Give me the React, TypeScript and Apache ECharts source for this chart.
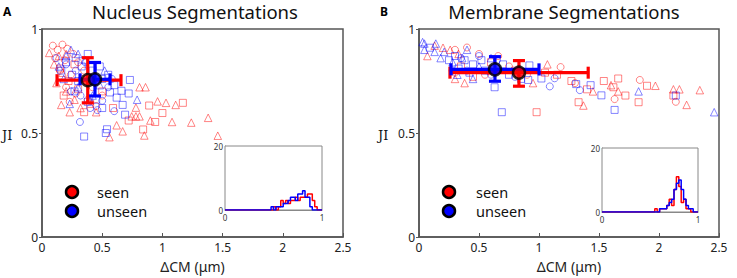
import React, { useEffect, useRef } from "react";
import * as echarts from "echarts";

// ---------- data ----------
const xTicks = [0, 0.5, 1, 1.5, 2, 2.5];
const yTicks = [0, 0.5, 1];

const seenCircA = [[0.09,0.92],[0.17,0.925],[0.13,0.9],[0.21,0.905],[0.26,0.88],[0.11,0.86],[0.19,0.85],[0.3,0.84],[0.15,0.8],[0.24,0.78],[0.33,0.76],[0.2,0.72],[0.28,0.69],[0.38,0.66],[0.45,0.63],[0.23,0.65],[0.35,0.8],[0.42,0.72],[0.5,0.68]];
const seenTriA = [[0.06,0.885],[0.14,0.87],[0.2,0.88],[0.1,0.83],[0.17,0.79],[0.12,0.74],[0.2,0.7],[0.16,0.635],[0.27,0.66],[0.32,0.62],[0.23,0.6],[0.45,0.6],[0.78,0.622],[0.81,0.72],[0.86,0.72],[0.96,0.652],[1.03,0.645],[1.11,0.635],[0.745,0.58],[0.78,0.58],[0.81,0.58],[0.9,0.56],[1.08,0.553],[1.24,0.55],[1.38,0.573],[0.62,0.537],[0.67,0.508],[0.56,0.48],[1.46,0.487],[0.85,0.488],[0.4,0.77]];
const seenSqA = [[0.15,0.81],[0.22,0.75],[0.3,0.71],[0.18,0.68],[0.4,0.64],[0.59,0.62],[0.72,0.56],[0.89,0.632],[1.0,0.596],[1.17,0.645],[0.94,0.553],[0.84,0.517],[0.27,0.83],[0.5,0.7],[0.35,0.6]];
const unseenSqA = [[0.38,0.88],[0.28,0.86],[0.2,0.84],[0.33,0.82],[0.42,0.8],[0.48,0.82],[0.25,0.78],[0.16,0.8],[0.3,0.75],[0.5,0.76],[0.55,0.78],[0.73,0.755],[0.6,0.73],[0.72,0.69],[0.565,0.695],[0.66,0.703],[0.67,0.635],[0.69,0.588],[0.54,0.518],[0.35,0.483],[0.53,0.5],[0.45,0.66],[0.38,0.65],[0.5,0.62],[0.27,0.7],[0.62,0.67]];
const unseenCircA = [[0.2,0.83],[0.28,0.8],[0.36,0.84],[0.24,0.7],[0.32,0.68],[0.46,0.61],[0.6,0.605],[0.5,0.655],[0.315,0.553],[0.4,0.62],[0.55,0.72],[0.44,0.74],[0.58,0.76],[0.12,0.86]];
const unseenTriA = [[0.24,0.9],[0.2,0.87],[0.3,0.88],[0.36,0.85],[0.14,0.82],[0.23,0.64],[0.79,0.66],[0.52,0.8],[0.42,0.68],[0.3,0.72],[0.18,0.76],[0.48,0.73]];

const unseenTriB = [[0.03,0.937],[0.045,0.93],[0.045,0.9],[0.14,0.93],[0.13,0.89],[0.21,0.89],[0.4,0.9],[0.36,0.86],[0.28,0.84],[0.18,0.86],[0.5,0.82],[0.32,0.78],[0.45,0.76],[1.83,0.7],[2.46,0.6],[0.6,0.86]];
const unseenSqB = [[0.09,0.91],[0.25,0.85],[0.3,0.87],[0.38,0.85],[0.45,0.83],[0.52,0.85],[0.33,0.81],[0.42,0.79],[0.55,0.8],[0.63,0.72],[0.69,0.6],[0.92,0.825],[1.02,0.762],[0.91,0.755],[1.31,0.735],[1.43,0.73],[1.52,0.681],[1.63,0.611],[2.14,0.68],[0.75,0.78],[0.85,0.76],[0.7,0.83]];
const unseenCircB = [[1.13,0.763],[1.09,0.724],[1.34,0.706],[0.35,0.86],[0.5,0.87],[0.28,0.8],[0.4,0.8],[0.6,0.78],[0.8,0.77],[0.65,0.85]];
const seenCircB = [[0.4,0.911],[0.3,0.9],[0.5,0.88],[0.66,0.87],[1.18,0.817],[1.84,0.755],[2.14,0.65],[1.63,0.663],[0.75,0.82],[0.55,0.78],[0.9,0.78],[0.3,0.79],[1.3,0.74]];
const seenSqB = [[0.98,0.6],[1.54,0.75],[1.66,0.762],[1.72,0.68],[1.83,0.648],[1.9,0.727],[1.62,0.72],[1.33,0.648],[1.27,0.75],[2.12,0.68],[0.6,0.84],[0.8,0.8],[0.45,0.77],[1.15,0.78],[1.4,0.71],[0.35,0.82],[1.05,0.79]];
const seenTriB = [[1.07,0.83],[1.97,0.727],[2.12,0.71],[2.17,0.71],[2.34,0.706],[2.23,0.635],[1.37,0.632],[0.07,0.87],[0.13,0.92],[0.2,0.91],[0.26,0.9],[0.33,0.88],[0.3,0.76],[0.38,0.74],[1.66,0.7],[1.45,0.7],[0.6,0.8],[0.95,0.74],[1.6,0.73]];

// [x, y, xlo, xhi, ylo, yhi]
const seenErrA = [0.38, 0.754, 0.125, 0.656, 0.645, 0.862];
const unseenErrA = [0.44, 0.758, 0.316, 0.565, 0.678, 0.839];
const seenErrB = [0.833, 0.79, 0.258, 1.41, 0.725, 0.848];
const unseenErrB = [0.633, 0.806, 0.267, 1.0, 0.749, 0.867];

// histogram counts, 40 bins of width 0.025 over [0,1]
const histEdges = Array.from({ length: 41 }, (_, i) => +(i * 0.025).toFixed(3));
const seenHistA = [0,0,0,0,0,0,0,0,0,0,0,0,0,0,0,0,0,0,0,0,1,0,1,3,2,3,2,3,3,4,3,4,4,4,5,5,3,1,0,0];
const unseenHistA = [0,0,0,0,0,0,0,0,0,0,0,0,0,0,0,0,0,0,0,1,0,1,1,1,2,2,3,4,4,3,5,5,6,4,4,1,0,0,0,0];
const seenHistB = [0,0,0,0,0,0,0,0,0,0,0,0,0,0,0,0,0,0,0,0,0,0,1,0,1,1,1,2,4,2,7,11,8,3,4,1,1,0,0,0];
const unseenHistB = [0,0,0,0,0,0,0,0,0,0,0,0,0,0,0,0,0,0,0,0,0,0,0,0,1,1,1,2,3,4,7,9,10,7,4,2,1,1,0,0];

const RED = "rgba(255,0,0,0.6)";
const BLUE = "rgba(0,0,255,0.6)";
const FONT = "Noto Sans";

function histData(counts: number[]) {
  const d = counts.map((c, i) => [histEdges[i], c]);
  d.push([1, 0]);
  return d;
}

function errRender(color: string) {
  return (params: any, api: any) => {
    const x = api.value(0), y = api.value(1);
    const l = api.coord([api.value(2), y]);
    const r = api.coord([api.value(3), y]);
    const b = api.coord([x, api.value(4)]);
    const t = api.coord([x, api.value(5)]);
    const cap = 6;
    const style = { stroke: color, lineWidth: 3.2 };
    const ln = (x1: number, y1: number, x2: number, y2: number) => ({
      type: "line", shape: { x1, y1, x2, y2 }, style,
    });
    return {
      type: "group",
      children: [
        ln(l[0], l[1], r[0], r[1]),
        ln(l[0], l[1] - cap, l[0], l[1] + cap),
        ln(r[0], r[1] - cap, r[0], r[1] + cap),
        ln(b[0], b[1], t[0], t[1]),
        ln(b[0] - cap, b[1], b[0] + cap, b[1]),
        ln(t[0] - cap, t[1], t[0] + cap, t[1]),
      ],
    };
  };
}

function mainX(gi: number) {
  return {
    type: "value", gridIndex: gi, min: 0, max: 2.5, interval: 0.5,
    name: "ΔCM (μm)", nameLocation: "middle", nameGap: 22,
    nameTextStyle: { fontSize: 14, fontFamily: FONT, color: "#222" },
    axisLine: { show: true, lineStyle: { color: "#555", width: 1.5 } },
    axisTick: { show: true, inside: true, length: 4, lineStyle: { color: "#555" } },
    axisLabel: { fontSize: 12, fontFamily: FONT, color: "#222", margin: 4,
      formatter: (v: number) => (xTicks.includes(v) ? String(v) : "") },
    splitLine: { show: false },
  };
}
function mainY(gi: number) {
  return {
    type: "value", gridIndex: gi, min: 0, max: 1, interval: 0.5,
    axisLine: { show: true, lineStyle: { color: "#555", width: 1.5 } },
    axisTick: { show: true, inside: false, length: 3, lineStyle: { color: "#555" } },
    axisLabel: { fontSize: 12, fontFamily: FONT, color: "#222", margin: 4,
      formatter: (v: number) => (yTicks.includes(v) ? String(v) : "") },
    splitLine: { show: false },
  };
}
function insetX(gi: number) {
  return {
    type: "value", gridIndex: gi, min: 0, max: 1, interval: 1,
    axisLine: { show: true, lineStyle: { color: "#888", width: 1 } },
    axisTick: { show: false },
    axisLabel: { fontSize: 8, fontFamily: FONT, color: "#333", margin: 3 },
    splitLine: { show: false },
  };
}
function insetY(gi: number) {
  return {
    type: "value", gridIndex: gi, min: 0, max: 20, interval: 20,
    axisLine: { show: true, lineStyle: { color: "#888", width: 1 } },
    axisTick: { show: false },
    axisLabel: { fontSize: 8, fontFamily: FONT, color: "#333", margin: 2 },
    splitLine: { show: false },
  };
}

function scat(data: number[][], symbol: string, color: string, gi: number) {
  return {
    type: "scatter", xAxisIndex: gi, yAxisIndex: gi, data, symbol,
    symbolSize: symbol === "triangle" ? 7.5 : 7,
    itemStyle: { color: "rgba(0,0,0,0)", borderColor: color, borderWidth: 1 },
    z: 2,
  };
}

function legendGraphics(cx: number, tx: number) {
  const items: any[] = [];
  [["seen", "#ff0000", 192], ["unseen", "#0000ff", 211]].forEach(([t, c, y]: any) => {
    items.push({ type: "circle", shape: { cx, cy: y, r: 6 }, style: { fill: c, stroke: "#000", lineWidth: 2.5 } });
    items.push({ type: "text", x: tx, y, style: { text: t, fontSize: 14.5, lineHeight: 14, fontFamily: FONT, fill: "#111", verticalAlign: "middle", align: "left" } });
  });
  return items;
}

export default function App() {
  const ref = useRef<HTMLDivElement>(null);
  useEffect(() => {
    if (!ref.current) return;
    const chart = echarts.init(ref.current, null, { renderer: "svg" });
    const option: any = {
      animation: false,
      backgroundColor: "#fff",
      grid: [
        { left: 42, top: 29, width: 301, height: 211, show: true, borderColor: "#555", borderWidth: 1.5, backgroundColor: "transparent" },
        { left: 419, top: 29, width: 300, height: 211, show: true, borderColor: "#555", borderWidth: 1.5, backgroundColor: "transparent" },
        { left: 225, top: 146, width: 97, height: 64, show: true, borderColor: "#888", borderWidth: 1, backgroundColor: "#fff", z: 5 },
        { left: 602, top: 148, width: 96, height: 64, show: true, borderColor: "#888", borderWidth: 1, backgroundColor: "#fff", z: 5 },
      ],
      xAxis: [mainX(0), mainX(1), insetX(2), insetX(3)],
      yAxis: [mainY(0), mainY(1), insetY(2), insetY(3)],
      series: [
        scat(seenCircA, "circle", RED, 0),
        scat(seenTriA, "triangle", RED, 0),
        scat(seenSqA, "rect", RED, 0),
        scat(unseenSqA, "rect", BLUE, 0),
        scat(unseenCircA, "circle", BLUE, 0),
        scat(unseenTriA, "triangle", BLUE, 0),
        scat(seenCircB, "circle", RED, 1),
        scat(seenSqB, "rect", RED, 1),
        scat(seenTriB, "triangle", RED, 1),
        scat(unseenTriB, "triangle", BLUE, 1),
        scat(unseenSqB, "rect", BLUE, 1),
        scat(unseenCircB, "circle", BLUE, 1),
        { type: "custom", xAxisIndex: 0, yAxisIndex: 0, data: [seenErrA], renderItem: errRender("#ff0000"), encode: { x: [0, 2, 3], y: [1, 4, 5] }, z: 3 },
        { type: "custom", xAxisIndex: 0, yAxisIndex: 0, data: [unseenErrA], renderItem: errRender("#0000ff"), encode: { x: [0, 2, 3], y: [1, 4, 5] }, z: 3 },
        { type: "custom", xAxisIndex: 1, yAxisIndex: 1, data: [seenErrB], renderItem: errRender("#ff0000"), encode: { x: [0, 2, 3], y: [1, 4, 5] }, z: 3 },
        { type: "custom", xAxisIndex: 1, yAxisIndex: 1, data: [unseenErrB], renderItem: errRender("#0000ff"), encode: { x: [0, 2, 3], y: [1, 4, 5] }, z: 3 },
        { type: "scatter", xAxisIndex: 0, yAxisIndex: 0, data: [seenErrA.slice(0, 2)], symbol: "circle", symbolSize: 12, itemStyle: { color: "#ff0000", borderColor: "#000", borderWidth: 2.5 }, z: 4 },
        { type: "scatter", xAxisIndex: 0, yAxisIndex: 0, data: [unseenErrA.slice(0, 2)], symbol: "circle", symbolSize: 12, itemStyle: { color: "#0000ff", borderColor: "#000", borderWidth: 2.5 }, z: 4 },
        { type: "scatter", xAxisIndex: 1, yAxisIndex: 1, data: [seenErrB.slice(0, 2)], symbol: "circle", symbolSize: 12, itemStyle: { color: "#ff0000", borderColor: "#000", borderWidth: 2.5 }, z: 4 },
        { type: "scatter", xAxisIndex: 1, yAxisIndex: 1, data: [unseenErrB.slice(0, 2)], symbol: "circle", symbolSize: 12, itemStyle: { color: "#0000ff", borderColor: "#000", borderWidth: 2.5 }, z: 4 },
        { type: "line", xAxisIndex: 2, yAxisIndex: 2, data: histData(seenHistA), step: "end", showSymbol: false, lineStyle: { color: "#ff0000", width: 1.5 }, z: 6 },
        { type: "line", xAxisIndex: 2, yAxisIndex: 2, data: histData(unseenHistA), step: "end", showSymbol: false, lineStyle: { color: "#0000ff", width: 1.5 }, z: 6 },
        { type: "line", xAxisIndex: 3, yAxisIndex: 3, data: histData(seenHistB), step: "end", showSymbol: false, lineStyle: { color: "#ff0000", width: 1.5 }, z: 6 },
        { type: "line", xAxisIndex: 3, yAxisIndex: 3, data: histData(unseenHistB), step: "end", showSymbol: false, lineStyle: { color: "#0000ff", width: 1.5 }, z: 6 },
      ],
      graphic: [
        { type: "text", x: 3, y: 11, style: { text: "A", fontSize: 12, fontWeight: "bold", fontFamily: FONT, fill: "#000", verticalAlign: "middle" } },
        { type: "text", x: 380, y: 11, style: { text: "B", fontSize: 12, fontWeight: "bold", fontFamily: FONT, fill: "#000", verticalAlign: "middle" } },
        { type: "text", x: 195, y: 11, style: { text: "Nucleus Segmentations", fontSize: 18.5, fontFamily: FONT, fill: "#111", align: "center", verticalAlign: "middle" } },
        { type: "text", x: 564, y: 11, style: { text: "Membrane Segmentations", fontSize: 18.5, fontFamily: FONT, fill: "#111", align: "center", verticalAlign: "middle" } },
        { type: "text", x: 2, y: 135, style: { text: "JI", fontSize: 13, fontFamily: "DejaVu Serif", fill: "#111", verticalAlign: "middle" } },
        { type: "text", x: 378, y: 135, style: { text: "JI", fontSize: 13, fontFamily: "DejaVu Serif", fill: "#111", verticalAlign: "middle" } },
        ...legendGraphics(72, 97),
        ...legendGraphics(449, 476),
      ],
    };
    chart.setOption(option);
    return () => chart.dispose();
  }, []);
  return <div ref={ref} style={{ position: "fixed", left: 0, top: 0, width: 737, height: 278 }} />;
}
